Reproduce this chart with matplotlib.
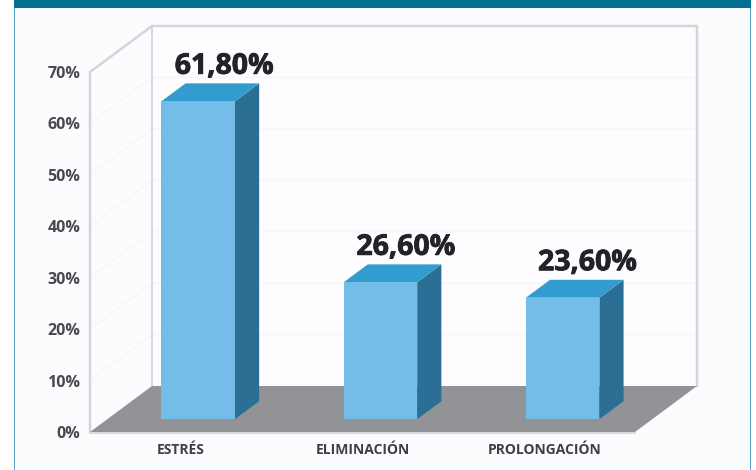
import matplotlib
matplotlib.use('Agg')
import matplotlib.pyplot as plt
from matplotlib.patches import Polygon, Rectangle
import matplotlib.patheffects as pe

categories = ['ESTRÉS', 'ELIMINACIÓN', 'PROLONGACIÓN']
values = [61.8, 26.6, 23.6]
value_labels = ['61,80%', '26,60%', '23,60%']
y_ticks = [0, 10, 20, 30, 40, 50, 60, 70]
y_tick_labels = ['0%', '10%', '20%', '30%', '40%', '50%', '60%', '70%']

W = 756
H = 470

# depth of the fake 3d box, in data units
depth_x = 62 / 181.67
depth_y = 46 / 5.143
bar_width = 0.405
# how far back the bars stand on the floor, and how deep they are
bar_pos = 0.28
bar_depth = 0.39

fig = plt.figure(figsize=(W / 100, H / 100), dpi=100, facecolor='white')

## Panel behind the chart
fig.patches.append(Rectangle((14 / W, 0), 737 / W, 1, transform=fig.transFigure,
                             facecolor='#FBFCFE', edgecolor='none', zorder=-3))
fig.patches.append(Rectangle((13.5 / W, 0), 1.5 / W, 1, transform=fig.transFigure,
                             facecolor='#55A9C2', edgecolor='none', zorder=-2))
fig.patches.append(Rectangle((749.5 / W, 0), 1.5 / W, 1, transform=fig.transFigure,
                             facecolor='#55A9C2', edgecolor='none', zorder=-2))
fig.patches.append(Rectangle((14 / W, 1 - 8 / H), 737 / W, 8 / H, transform=fig.transFigure,
                             facecolor='#02708F', edgecolor='none', zorder=-1))

ax = fig.add_axes([90 / W, 1 - 432 / H, 545 / W, 360 / H])
ax.set_xlim(-0.5, 2.5)
ax.set_ylim(0, 70)
ax.patch.set_alpha(0)
for s in ax.spines.values():
    s.set_visible(False)

x0, x1 = ax.get_xlim()
top = y_ticks[-1]

## Back wall and floor
ax.add_patch(Polygon([(x0 + depth_x, depth_y), (x1 + depth_x, depth_y),
                      (x1 + depth_x, top + depth_y), (x0 + depth_x, top + depth_y)],
                     facecolor='#FDFDFF', edgecolor='none', clip_on=False, zorder=1))
ax.add_patch(Polygon([(x0, 0), (x1, 0), (x1 + depth_x, depth_y), (x0 + depth_x, depth_y)],
                     facecolor='#929396', edgecolor='none', clip_on=False, zorder=2))

## Faint grid on both walls
for t in y_ticks[1:-1]:
    ax.plot([x0, x0 + depth_x, x1 + depth_x], [t, t + depth_y, t + depth_y],
            color='#F6F7F9', lw=1.2, clip_on=False, zorder=1.5)

## Wall edges
edge = '#D4D5D8'
ax.plot([x0, x0, x0 + depth_x, x1 + depth_x, x1 + depth_x],
        [0, top, top + depth_y, top + depth_y, depth_y],
        color=edge, lw=1.8, clip_on=False, zorder=1.6, solid_joinstyle='miter')
ax.plot([x0 + depth_x, x0 + depth_x], [depth_y, top + depth_y],
        color=edge, lw=1.3, clip_on=False, zorder=1.6)
ax.plot([x0, x1], [-0.2, -0.2], color=edge, lw=1.2, clip_on=False, zorder=1.6)

## Bars
for i, v in enumerate(values):
    bx0 = i + bar_pos * depth_x - bar_width / 2 + 0.003 * i
    bx1 = bx0 + bar_width
    by0 = bar_pos * depth_y
    by1 = by0 + v
    dx = bar_depth * depth_x
    dy = bar_depth * depth_y
    ax.add_patch(Polygon([(bx1, by0), (bx1 + dx, by0 + dy), (bx1 + dx, by1 + dy), (bx1, by1)],
                         facecolor='#2B6F94', edgecolor='none', clip_on=False, zorder=3))
    ax.add_patch(Polygon([(bx0, by1), (bx1, by1), (bx1 + dx, by1 + dy), (bx0 + dx, by1 + dy)],
                         facecolor='#339CCF', edgecolor='none', clip_on=False, zorder=3))
    ax.add_patch(Rectangle((bx0, by0), bar_width, v, facecolor='#74BDE8',
                           edgecolor='none', clip_on=False, zorder=4))
    txt = ax.annotate(value_labels[i], (i + bar_pos * depth_x, by1), xytext=(26, 35),
                      textcoords='offset pixels', ha='center', va='center',
                      fontsize=20.5, fontweight='bold', family='Open Sans',
                      color='#222326', zorder=5, annotation_clip=False)
    txt.set_path_effects([pe.withStroke(linewidth=0.6, foreground='#222326')])

ax.set_yticks(y_ticks)
ax.set_yticklabels(y_tick_labels, fontsize=11.5, fontweight='bold', family='Open Sans',
                   color='#48494C')
ax.set_xticks(range(len(categories)))
ax.set_xticklabels(categories, fontsize=10, fontweight='bold', family='Open Sans',
                   color='#3F4043')
ax.tick_params(axis='both', length=0)
ax.tick_params(axis='y', pad=7)
ax.tick_params(axis='x', pad=8)

fig.savefig('out.png', dpi=100)
